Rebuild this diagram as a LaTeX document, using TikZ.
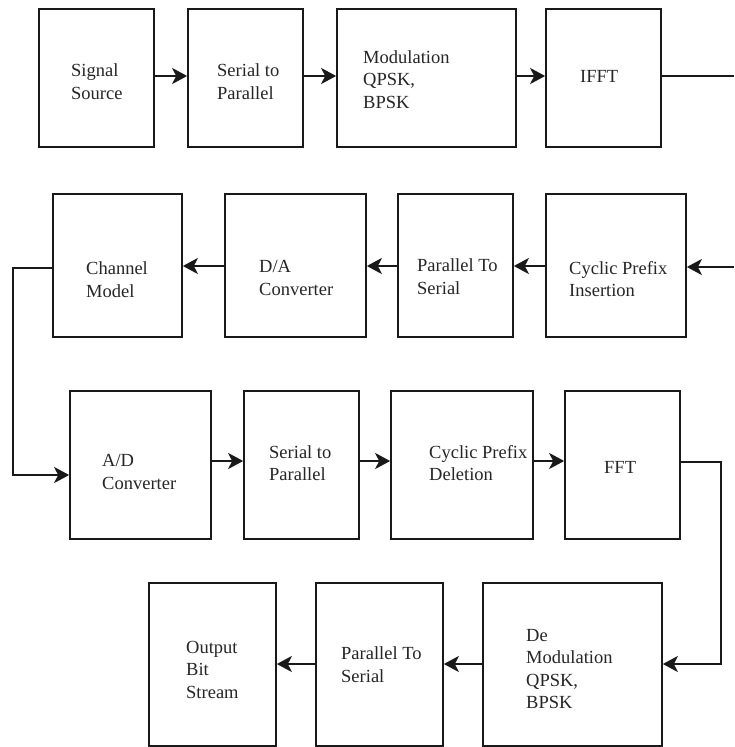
\documentclass[tikz,border=0pt]{standalone}
\usepackage{fontspec}
\setmainfont{Liberation Serif}
\usetikzlibrary{arrows.meta,calc}
\begin{document}
\begin{tikzpicture}[x=1pt,y=-1pt,
  box/.style={draw=black!90,line width=1.7pt,inner sep=0pt,rectangle},
  lbl/.style={anchor=west,align=left,inner sep=0pt,font=\fontsize{18.5}{22.5}\selectfont,text=black!85},
  conn/.style={draw=black!90,line width=1.7pt},
  arr/.style={conn,-{Stealth[length=15pt,width=16pt,inset=4pt]}}]
\useasboundingbox (0,0) rectangle (734,747);
\fill[white] (0,0) rectangle (734,747);
% row 1
\node[box,minimum width=115pt,minimum height=138pt] (ss)  at (96.5,78) {};
\node[box,minimum width=115pt,minimum height=138pt] (sp1) at (245.5,78) {};
\node[box,minimum width=179pt,minimum height=138pt] (mod) at (426.5,78) {};
\node[box,minimum width=115pt,minimum height=138pt] (ifft) at (603.5,78) {};
\node[lbl] (tss)  at (71,81.5)  {Signal\\Source};
\node[lbl] (tsp1) at (217,81.5) {Serial to\\Parallel};
\node[lbl] (tmod) at (363,79.5) {Modulation\\QPSK,\\BPSK};
\node[lbl] (tifft) at (580,76)  {IFFT};
% row 2
\node[box,minimum width=129pt,minimum height=143pt] (ch)  at (117.5,265.5) {};
\node[box,minimum width=141pt,minimum height=143pt] (da)  at (295.5,265.5) {};
\node[box,minimum width=115pt,minimum height=143pt] (ps1) at (455.5,265.5) {};
\node[box,minimum width=140pt,minimum height=143pt] (cpi) at (616,265.5) {};
\node[lbl] (tch)  at (86,279.5)  {Channel\\Model};
\node[lbl] (tda)  at (259,278)   {D/A\\Converter};
\node[lbl] (tps1) at (417,276.5) {Parallel To\\Serial};
\node[lbl] (tcpi) at (569,279)   {Cyclic Prefix\\Insertion};
% row 3
\node[box,minimum width=141pt,minimum height=148pt] (ad)  at (140.5,465) {};
\node[box,minimum width=115pt,minimum height=148pt] (sp2) at (301.5,465) {};
\node[box,minimum width=142pt,minimum height=148pt] (cpd) at (462,465) {};
\node[box,minimum width=115pt,minimum height=148pt] (fft) at (622.5,465) {};
\node[lbl] (tad)  at (102,472)  {A/D\\Converter};
\node[lbl] (tsp2) at (269,463)  {Serial to\\Parallel};
\node[lbl] (tcpd) at (429,463)  {Cyclic Prefix\\Deletion};
\node[lbl] (tfft) at (604,467)  {FFT};
% row 4
\node[box,minimum width=127pt,minimum height=163pt] (out) at (212.5,664.5) {};
\node[box,minimum width=127pt,minimum height=163pt] (ps2) at (379.5,664.5) {};
\node[box,minimum width=179pt,minimum height=163pt] (dem) at (572.5,664.5) {};
\node[lbl] (tout) at (186,669.5) {Output\\Bit\\Stream};
\node[lbl] (tps2) at (341,664.5) {Parallel To\\Serial};
\node[lbl] (tdem) at (526,669)   {De\\Modulation\\QPSK,\\BPSK};
% free ends
\coordinate (e1) at (734,76);
\coordinate (e2) at (734,267);
\coordinate (c1) at (13,268);
\coordinate (c2) at (13,475);
\coordinate (f1) at (721,462);
\coordinate (f2) at (721,664);
% connectors
\draw[arr] ([yshift=2pt]ss.east) -- ([yshift=2pt]sp1.west);
\draw[arr] ([yshift=2pt]sp1.east) -- ([yshift=2pt]mod.west);
\draw[arr] ([yshift=2pt]mod.east) -- ([yshift=2pt]ifft.west);
\draw[conn] ([yshift=2pt]ifft.east) -- (e1);
\draw[arr] (e2) -- (cpi.east |- e2);
\draw[arr] (cpi.west |- 0,266) -- (ps1.east |- 0,266);
\draw[arr] (ps1.west |- 0,266) -- (da.east |- 0,266);
\draw[arr] (da.west |- 0,266) -- (ch.east |- 0,266);
\draw[arr] (ch.west |- c1) -- (c1) -- (c2) -- (ad.west |- c2);
\draw[arr] (ad.east |- 0,461) -- (sp2.west |- 0,461);
\draw[arr] (sp2.east |- 0,461) -- (cpd.west |- 0,461);
\draw[arr] (cpd.east |- 0,461) -- (fft.west |- 0,461);
\draw[arr] (fft.east |- f1) -- (f1) -- (f2) -- (dem.east |- f2);
\draw[arr] (dem.west |- 0,664) -- (ps2.east |- 0,664);
\draw[arr] (ps2.west |- 0,664) -- (out.east |- 0,664);
\end{tikzpicture}
\end{document}
